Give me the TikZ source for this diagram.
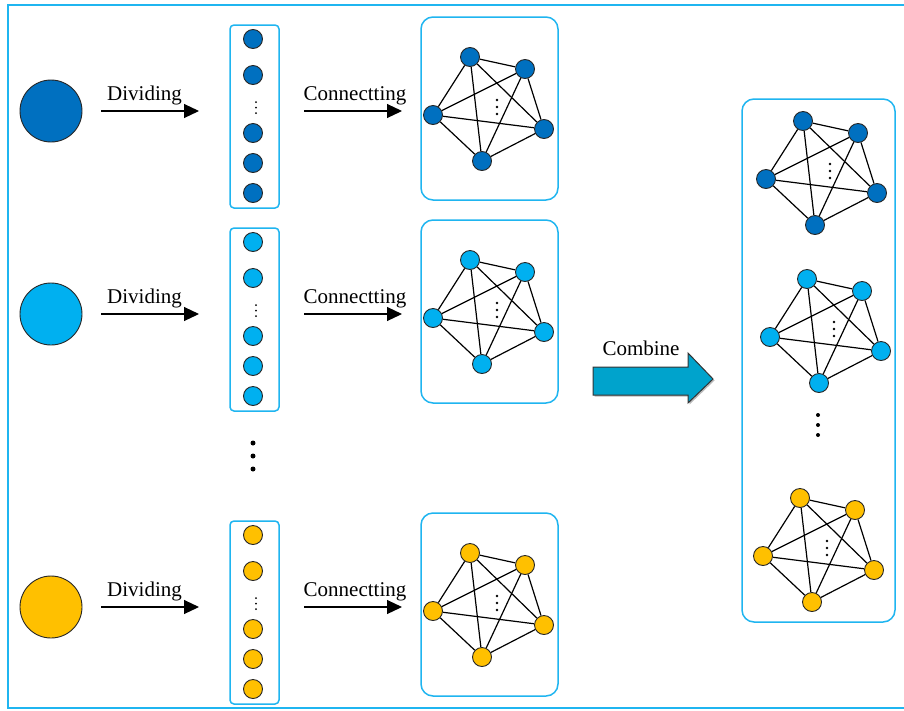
\documentclass[tikz,border=0pt]{standalone}
\usepackage{fontspec}
\setmainfont{Liberation Serif}
\usetikzlibrary{arrows.meta}
\definecolor{frameblue}{HTML}{1FB5F0}
\definecolor{darkdot}{HTML}{0070C0}
\definecolor{lightdot}{HTML}{00B0F0}
\definecolor{golddot}{HTML}{FFC000}
\definecolor{combfill}{HTML}{00A3CC}
\tikzset{
  x=1pt, y=-1pt,
  panel/.style={draw=frameblue, line width=1.5pt, rounded corners=#1},
  bigball/.style={circle, draw=black!85, line width=0.9pt, minimum size=62pt, inner sep=0pt},
  ball/.style={circle, draw=black!85, line width=0.9pt, minimum size=19pt, inner sep=0pt},
  flowarrow/.style={line width=1.1pt, -{Triangle[length=15pt,width=14pt]}},
  edge/.style={line width=1.2pt, black},
  lbl/.style={font=\fontsize{21}{24}\selectfont, anchor=base, inner sep=0pt},
  tinydot/.style={circle, fill=black, minimum size=#1, inner sep=0pt},
  tinydot/.default=2.6pt,
  bigdot/.style={circle, fill=black, minimum size=5pt, inner sep=0pt}
}
% one complete graph on five nodes, offset (#1,#2), node colour #3, name prefix #4
\newcommand{\fivegraph}[4]{%
  \begin{scope}[shift={(#1,#2)}]
    \foreach \n/\px/\py in {a/470/57, b/525/69, c/433/115, d/544/129, e/482/161}
      \node[ball, fill=#3] (#4\n) at (\px,\py) {};
    \foreach \u/\v in {a/b, a/c, a/d, a/e, b/c, b/d, b/e, c/d, c/e, d/e}
      \draw[edge] (#4\u) -- (#4\v);
    \foreach \k/\py in {1/100, 2/107, 3/114}
      \node[tinydot] (#4dot\k) at (497,\py) {};
  \end{scope}}
% one row: source circle, divided column and its graph, vertical offset #1
\newcommand{\onerow}[3]{%
  \begin{scope}[shift={(0,#1)}]
    \node[bigball, fill=#2] (#3src) at (51,111) {};
    \coordinate (#3divS) at (101,111);
    \coordinate (#3divE) at (199,111);
    \draw[flowarrow] (#3divS) -- (#3divE);
    \node[lbl] (#3divL) at (144.5,100) {Dividing};
    \draw[panel=4pt] (230,25) rectangle (279,208);
    \foreach \k/\py in {1/39, 2/75, 3/133, 4/163, 5/193}
      \node[ball, fill=#2] (#3col\k) at (253,\py) {};
    \foreach \k/\py in {1/102, 2/107.5, 3/113}
      \node[tinydot=2pt] (#3cdot\k) at (256,\py) {};
    \coordinate (#3conS) at (304,111);
    \coordinate (#3conE) at (402,111);
    \draw[flowarrow] (#3conS) -- (#3conE);
    \node[lbl] (#3conL) at (355,100) {Connectting};
    \draw[panel=12pt] (421,17) rectangle (558,200);
  \end{scope}
  \fivegraph{0}{#1}{#2}{#3g}}
\begin{document}
\begin{tikzpicture}
\useasboundingbox (0,0) rectangle (904,710);
\fill[white] (0,0) rectangle (904,710);
% outer frame (open on the right)
\draw[frameblue, line width=2pt] (905,5) -- (8,5) -- (8,708) -- (905,708);

\onerow{0}{darkdot}{r1}
\onerow{203}{lightdot}{r2}
\onerow{496}{golddot}{r3}

% vertical ellipsis between rows
\foreach \k/\py in {1/443, 2/456, 3/469}
  \node[bigdot] (mid\k) at (253,\py) {};

% combine arrow
\fill[black!45, opacity=0.6, shift={(1.5,1.5)}]
  (593,367) -- (688,367) -- (688,353) -- (713,379) -- (688,403) -- (688,395) -- (593,395) -- cycle;
\draw[fill=combfill, draw=black!80, line width=1pt]
  (593,367) -- (688,367) -- (688,353) -- (713,379) -- (688,403) -- (688,395) -- (593,395) -- cycle;
\node[lbl] (comb) at (641,355) {Combine};

% combined panel
\draw[panel=12pt] (742,99) rectangle (895,622);
\fivegraph{333}{64}{darkdot}{c1}
\fivegraph{337}{222}{lightdot}{c2}
\fivegraph{330}{441}{golddot}{c3}
\foreach \k/\py in {1/415, 2/425, 3/435}
  \node[bigdot, minimum size=4pt] (rmid\k) at (818,\py) {};
\end{tikzpicture}
\end{document}
